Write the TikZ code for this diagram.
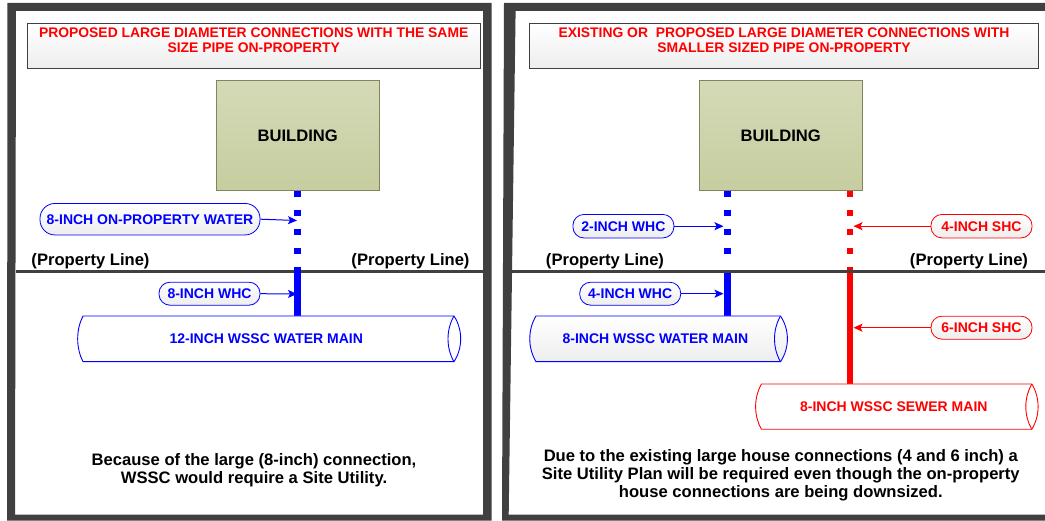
\documentclass[tikz,border=0pt]{standalone}
\usepackage{fontspec}
\setmainfont{Liberation Sans}
\usetikzlibrary{arrows.meta}
\definecolor{frameC}{HTML}{404040}
\definecolor{bluP}{HTML}{0000FF}
\definecolor{redP}{HTML}{FF0000}
\tikzset{
  x=1pt,y=-1pt,
  lab/.style={font=\bfseries\fontsize{#1}{#1}\selectfont,inner sep=0pt,align=center},
  titlebox/.style={draw=frameC,line width=0.8pt,top color=white,bottom color=black!7,inner sep=0pt,anchor=north west},
  bldg/.style={draw=black!55!olive!70,line width=1pt,top color={rgb,255:red,212;green,218;blue,182},bottom color={rgb,255:red,198;green,205;blue,160},inner sep=0pt,font=\bfseries\fontsize{16.6}{16.6}\selectfont},
  pill/.style={draw=#1,text=#1,line width=0.8pt,rounded corners=11pt,top color=white,bottom color=black!7,inner sep=0pt,font=\bfseries\fontsize{14}{14}\selectfont},
  ptr/.style={draw=#1,line width=1pt,-{Stealth[length=9pt,width=8pt,inset=2pt]}},
  dotpipe/.style={draw=#1,line width=6.6pt,dash pattern=on 6pt off 12.9pt},
  solidpipe/.style={draw=#1,line width=6.6pt},
  mainbody/.style={draw=#1,line width=0.9pt},
}
% #1 left, #2 body left, #3 body right, #4 right, #5 top, #6 bottom, #7 colour, #8 fill options
\newcommand{\mainpipe}[8]{
  \path[mainbody=#7,#8] (#2,#5) .. controls ({#1-1.8},{#5+0.3*(#6-#5)}) and ({#1-1.8},{#5+0.7*(#6-#5)}) .. (#2,#6) -- (#3,#6)
     .. controls ({#4+2.2},{#5+0.7*(#6-#5)}) and ({#4+2.2},{#5+0.3*(#6-#5)}) .. (#3,#5) -- cycle;
  \draw[mainbody=#7] (#3,#5) .. controls ({#3-8},{#5+0.3*(#6-#5)}) and ({#3-8},{#5+0.7*(#6-#5)}) .. (#3,#6);
}
\begin{document}
\begin{tikzpicture}
\useasboundingbox (0,0) rectangle (1045,521);
\fill[white] (0,0) rectangle (1045,521);
% frames
\fill[frameC,even odd rule] (7.5,3) -- (491.7,3) -- (491.7,520.5) -- (7,520.5) -- cycle
   (16,11) -- (483,11) -- (483,514.5) -- (15,514.5) -- cycle;
\fill[frameC,even odd rule] (504,3) -- (1045,3) -- (1045,520.5) -- (502,520.5) -- cycle
   (515.6,11) -- (1045,11) -- (1045,514.5) -- (508.7,514.5) -- cycle;
% LEFT PANEL
\node[titlebox,minimum width=453pt,minimum height=45pt] (tl) at (27,23.5) {};
\node[lab=13.9,text=redP] (ttl) at (253.7,40.2) {PROPOSED LARGE DIAMETER CONNECTIONS WITH THE SAME\\[1.1pt]SIZE PIPE ON-PROPERTY};
\node[bldg,minimum width=163.5pt,minimum height=110pt] (bl) at (297.75,136) {BUILDING};
\coordinate (lpa) at (297.7,191);
\coordinate (lpb) at (297.7,273);
\coordinate (lpc) at (297.7,266.7);
\coordinate (lpd) at (297.7,316);
\draw[dotpipe=bluP] (lpa) -- (lpb);
\fill[frameC] (16,270) rectangle (483,272.8);
\draw[solidpipe=bluP] (lpc) -- (lpd);
\node[lab=16.6] (pl1) at (90.5,261.2) {(Property Line)};
\node[lab=16.6] (pl2) at (410.5,261.2) {(Property Line)};
\node[pill=bluP,minimum width=220pt,minimum height=31.5pt,rounded corners=15pt] (lw) at (150,219.2) {8-INCH ON-PROPERTY WATER};
\coordinate (lwe) at (297,220.5);
\draw[ptr=bluP] (lw.east) -- (lwe);
\node[pill=bluP,minimum width=101pt,minimum height=23pt] (lc) at (209.5,293.7) {8-INCH WHC};
\coordinate (lce) at (297,294);
\draw[ptr=bluP] (lc.east) -- (lce);
\mainpipe{77.7}{83}{454}{460.7}{316}{361.7}{bluP}{fill=white}
\node[lab=14,text=bluP] (lm) at (266.3,338.7) {12-INCH WSSC WATER MAIN};
\node[lab=16.6,text=black] (ln) at (254,470.3) {Because of the large (8-inch) connection,\\[1.4pt]WSSC would require a Site Utility.};
% RIGHT PANEL
\node[titlebox,minimum width=509pt,minimum height=45pt] (tr) at (529,23.5) {};
\node[lab=13.9,text=redP] (ttr) at (784,40.2) {EXISTING OR\ \ PROPOSED LARGE DIAMETER CONNECTIONS WITH\\[1.1pt]SMALLER SIZED PIPE ON-PROPERTY};
\node[bldg,minimum width=163.5pt,minimum height=110pt] (br) at (780.75,136) {BUILDING};
\coordinate (bpa) at (727.5,191);
\coordinate (bpb) at (727.5,262);
\coordinate (bpc) at (727.5,273);
\coordinate (bpd) at (727.5,316);
\coordinate (rpa) at (849.8,191);
\coordinate (rpb) at (849.8,270);
\coordinate (rpc) at (849.8,273);
\coordinate (rpd) at (849.8,384);
\draw[dotpipe=bluP] (bpa) -- (bpb);
\draw[dotpipe=redP] (rpa) -- (rpb);
\fill[frameC] (512,270) rectangle (1045,272.8);
\draw[solidpipe=bluP] (bpc) -- (bpd);
\draw[solidpipe=redP] (rpc) -- (rpd);
\node[lab=16.6] (pl3) at (605,261.2) {(Property Line)};
\node[lab=16.6] (pl4) at (969,261.2) {(Property Line)};
\node[pill=bluP,minimum width=101pt,minimum height=23.5pt] (rw) at (623.4,226.2) {2-INCH WHC};
\coordinate (rwe) at (723.5,226.2);
\draw[ptr=bluP] (rw.east) -- (rwe);
\node[pill=redP,minimum width=101pt,minimum height=23.5pt] (rs) at (981.5,226.2) {4-INCH SHC};
\coordinate (rse) at (853.5,226.2);
\draw[ptr=redP] (rs.west) -- (rse);
\node[pill=bluP,minimum width=101pt,minimum height=23pt] (rw2) at (630.2,293.7) {4-INCH WHC};
\coordinate (rwf) at (723.5,293.7);
\draw[ptr=bluP] (rw2.east) -- (rwf);
\node[pill=redP,minimum width=101pt,minimum height=23pt] (rs2) at (981.5,327.7) {6-INCH SHC};
\coordinate (rsf) at (853.5,327.7);
\draw[ptr=redP] (rs2.west) -- (rsf);
\mainpipe{529.5}{536}{780.5}{787.5}{316}{361.7}{bluP}{top color=white,bottom color=black!7}
\node[lab=14,text=bluP] (rm) at (655.4,338.7) {8-INCH WSSC WATER MAIN};
\mainpipe{755.5}{761.4}{1031.8}{1038}{384}{429.3}{redP}{fill=white}
\node[lab=14,text=redP] (rm2) at (893.8,406.7) {8-INCH WSSC SEWER MAIN};
\node[lab=16.6,text=black] (rn) at (780.8,474.8) {Due to the existing large house connections (4 and 6 inch) a\\[1.4pt]Site Utility Plan will be required even though the on-property\\[1.4pt]house connections are being downsized.};
\end{tikzpicture}
\end{document}
